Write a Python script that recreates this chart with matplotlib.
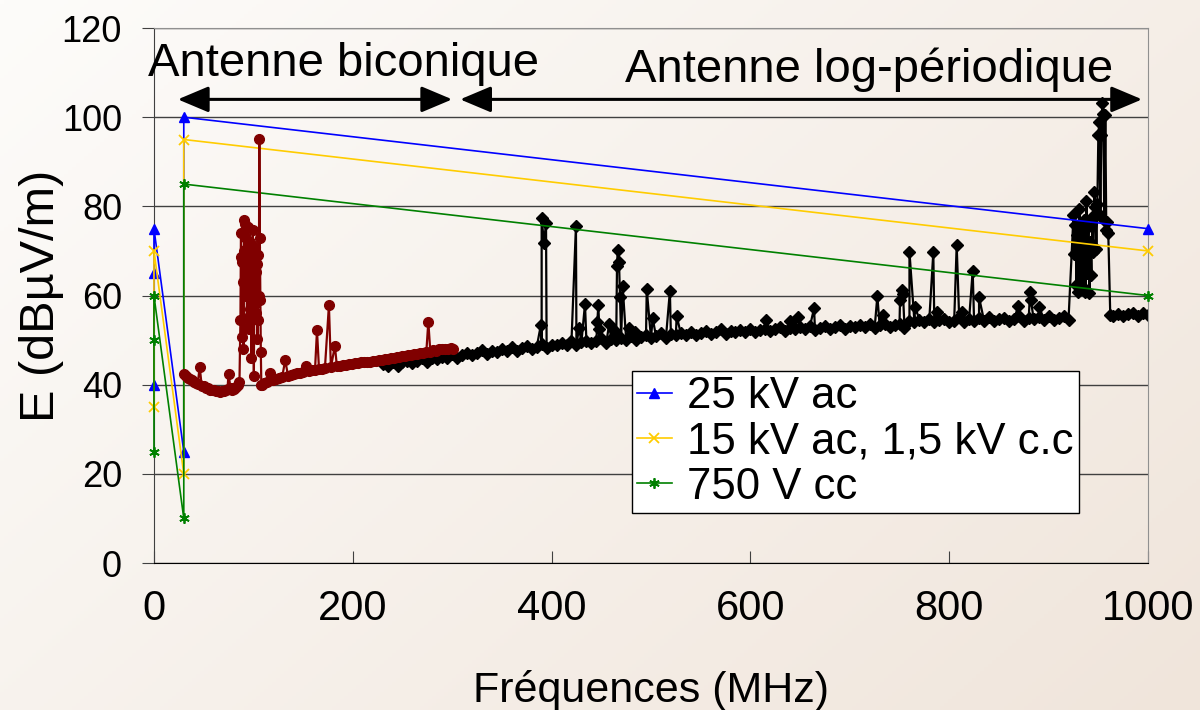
import numpy as np
import matplotlib
matplotlib.use('Agg')
import matplotlib.pyplot as plt

plt.rcParams['font.family'] = ['Liberation Sans', 'DejaVu Sans']

# Limits (frequency MHz, field dBuV/m)
lim_25kv_f = [0, 0, 0, 30, 30, 1000]
lim_25kv_e = [40, 65, 75, 25, 100, 75]
lim_15kv_f = [0, 0, 30, 30, 1000]
lim_15kv_e = [35, 70, 20, 95, 70]
lim_750v_f = [0, 0, 0, 30, 30, 1000]
lim_750v_e = [25, 50, 60, 10, 85, 60]

# Biconical antenna measurement (30-300 MHz)
bic_f = [30, 32, 34, 36, 38, 40, 42, 44, 46, 48, 50, 52, 54, 56, 58, 60, 62, 64, 66, 68,
         70, 72, 74, 75, 77, 79, 81, 83, 85,
         86, 87, 87.5, 88, 88.5, 89, 89.5, 90, 90.5, 91, 91.5, 92, 92.5, 93, 93.5, 94, 94.5,
         95, 95.5, 96, 96.5, 97, 97.5, 98, 98.5, 99, 99.5, 100, 100.5, 101, 101.5, 102, 102.5,
         103, 103.5, 104, 104.5, 105, 105.5, 106, 106.5, 107, 107.5, 108,
         109, 111, 114, 117, 120, 123, 126, 129, 132, 135, 138, 141, 144, 147, 150, 153, 156,
         159, 162, 164, 166, 169, 172, 176, 178, 182, 184, 187, 190, 193, 196, 199, 202, 205,
         208, 211, 214, 217, 220, 223, 226, 229, 232, 235, 238, 241, 244, 247, 250, 253, 256,
         259, 262, 265, 268, 271, 274, 276, 278, 281, 284, 287, 290, 293, 296, 299, 301]
bic_e = [42.3, 42.0, 41.6, 41.3, 41.0, 40.6, 40.4, 40.1, 44.0, 39.8, 39.6, 39.3, 39.2, 38.9,
         38.8, 38.7, 38.5, 38.6, 38.4, 38.5, 38.6, 38.7, 39.0, 42.5, 39.2, 38.9, 39.1, 39.4, 40.0,
         40.5, 54.6, 74.1, 68.7, 67.6, 50.6, 63.1, 47.9, 70.0, 77.0, 76.0, 70.2, 60.0, 73.0, 55.0,
         53.0, 75.4, 66.0, 52.4, 63.5, 57.0, 72.0, 61.0, 45.9, 68.0, 55.0, 74.7, 62.0, 41.9, 64.0,
         58.0, 70.9, 65.3, 56.0, 67.0, 50.2, 54.5, 69.1, 60.0, 95.2, 73.0, 59.0, 47.4, 40.0,
         39.9, 40.4, 40.6, 42.6, 41.0, 41.3, 41.4, 41.7, 45.5, 41.9, 42.2, 42.3, 42.6, 42.6, 42.9,
         44.2, 43.1, 43.3, 43.3, 52.2, 43.6, 43.6, 43.8, 57.8, 43.9, 48.7, 44.2, 44.2, 44.4, 44.4,
         44.6, 44.6, 44.8, 44.8, 45.0, 45.0, 45.2, 45.2, 45.4, 45.4, 45.6, 45.6, 45.8, 45.8, 46.0,
         46.0, 46.2, 46.3, 46.5, 46.4, 46.7, 46.6, 46.9, 46.8, 47.1, 47.1, 47.4, 54.1, 47.4, 47.7,
         47.6, 47.9, 47.9, 48.1, 48.0, 48.3, 48.1]

# Log-periodic antenna measurement (230-1000 MHz): noise floor every 5 MHz
lp_base_f = list(range(230, 925, 5)) + [962] + list(range(965, 1005, 5))
lp_base_e = [44.6, 44.2, 45.1, 44.3, 45.0, 45.4, 44.9, 45.3, 46.1, 45.1, 46.0, 45.8, 46.3, 45.9,
             46.8, 46.0, 46.7, 47.1, 46.6, 47.0, 47.8, 46.8, 47.6, 47.4, 48.0, 47.6, 48.4, 47.6,
             48.2, 48.6, 48.0, 48.4, 49.2, 48.2, 49.0, 48.8, 49.3, 48.9, 49.7, 48.9, 49.5, 49.9,
             49.3, 49.7, 50.4, 49.4, 50.2, 50.0, 50.5, 50.1, 50.9, 50.1, 50.7, 51.1, 50.5, 50.9,
             51.5, 50.5, 51.3, 51.1, 51.5, 51.1, 51.9, 51.1, 51.6, 52.0, 51.4, 51.8, 52.4, 51.4,
             52.1, 51.9, 52.3, 51.9, 52.6, 51.8, 52.3, 52.6, 52.0, 52.4, 53.0, 52.0, 52.7, 52.5,
             52.9, 52.4, 53.2, 52.3, 52.8, 53.2, 52.5, 52.9, 53.5, 52.5, 53.2, 52.9, 53.4, 52.9,
             53.6, 52.8, 53.3, 53.6, 52.9, 53.3, 53.7, 52.8, 54.4, 54.1, 54.6, 54.1, 54.8, 54.0,
             54.5, 54.8, 54.1, 54.4, 55.1, 54.0, 54.7, 54.4, 54.9, 54.4, 55.1, 54.2, 54.7, 55.0,
             54.4, 54.7, 55.3, 54.2, 55.0, 54.7, 55.1, 54.6, 55.3, 54.5, 55.0, 55.3, 54.6,
             55.6, 55.3, 55.9, 55.4, 55.8, 56.1, 55.5, 56.0, 55.7]
# Log-periodic emission peaks
lp_peak_f = [389.3, 390, 392.4, 394.4, 424.5, 427.6, 433.6, 446, 447, 448, 458, 463.8, 465.8,
             466.5, 467.8, 468.8, 471.5, 478.2, 484, 495.7, 501.7, 519, 525.8, 615.7, 639.8,
             647.6, 664, 727.7, 733.8, 750.5, 752, 753.5, 760, 765.6, 784, 788, 807.5, 813,
             823.6, 830, 869.6, 881.3, 882, 890.7,
             925, 926, 927, 928, 929, 930, 931, 932, 933, 934, 935, 936, 937, 938, 939, 940,
             941, 942, 943, 944, 945, 946, 947, 948, 949, 950, 951, 952, 953, 954, 955, 956,
             957, 958, 959, 960]
lp_peak_e = [53.5, 77.3, 71.7, 76.2, 75.6, 52.8, 58.1, 54.1, 57.8, 52.6, 53.7, 52.1, 66.7,
             70.2, 67.6, 59.7, 62.1, 52.8, 51.9, 61.4, 54.9, 61.0, 55.4, 54.6, 54.3,
             55.1, 57.1, 59.9, 55.6, 59.0, 61.2, 60.4, 69.8, 57.5, 69.7, 56.3, 71.3, 56.3,
             65.5, 59.6, 57.6, 60.8, 59.1, 57.5,
             78.0, 69.4, 75.8, 62.3, 73.5, 60.8, 79.5, 62.3, 75.5, 71.7, 62.0, 77.0, 60.8, 81.3,
             65.0, 75.4, 60.6, 72.0, 64.5, 77.6, 69.8, 83.3, 79.9, 70.5, 80.5, 96.0, 98.9, 78.0,
             96.0, 103.1, 100.8, 77.0, 100.5, 74.7, 76.5, 74.0]

lp_f = np.array(lp_base_f + lp_peak_f)
lp_e = np.array(lp_base_e + lp_peak_e)
order = np.argsort(lp_f, kind='stable')
lp_f, lp_e = lp_f[order], lp_e[order]

fig = plt.figure(figsize=(12, 7.1), dpi=100)

# soft diagonal background gradient
bg = fig.add_axes([0, 0, 1, 1], zorder=-1)
gx, gy = np.meshgrid(np.linspace(0, 1, 300), np.linspace(0, 1, 200))
t = np.clip(0.6 * gx + 0.4 * gy, 0, 1)[..., None]
c0 = np.array([253, 252, 250]) / 255
c1 = np.array([240, 229, 219]) / 255
bg.imshow(c0 + (c1 - c0) * t, aspect='auto', extent=[0, 1, 0, 1], origin='upper')
bg.axis('off')

ax = fig.add_axes([0.1283, 0.2070, 0.8284, 0.7535])
ax.set_facecolor('none')

ax.plot(lp_f, lp_e, color='black', marker='D', markersize=6.5, lw=1.6, zorder=2)
ax.plot(lim_25kv_f, lim_25kv_e, color='#0000ff', marker='^', markersize=6.5, lw=1.2,
        label='25 kV ac', clip_on=False, zorder=3)
ax.plot(lim_15kv_f, lim_15kv_e, color='#ffcc00', marker='x', markersize=6.5, mew=1.3, lw=1.2,
        label='15 kV ac, 1,5 kV c.c', clip_on=False, zorder=3)
ax.plot(lim_750v_f, lim_750v_e, color='#008000', marker=(6, 2, 0), markersize=7.5, mew=1.3,
        lw=1.2, label='750 V cc', clip_on=False, zorder=3)
ax.plot(bic_f, bic_e, color='#800000', marker='o', markersize=7, lw=1.6, zorder=4)

ax.set_xlim(0, 1000)
ax.set_ylim(0, 120)
ax.set_xticks(range(0, 1001, 200))
ax.set_yticks(range(0, 121, 20))
ax.grid(axis='y', color='#404040', lw=1)
ax.tick_params(axis='y', direction='out', length=9, color='#404040', pad=14, labelsize=26)
ax.tick_params(axis='x', direction='in', length=9, color='#404040', pad=19, labelsize=30)
for side in ('top', 'right'):
    ax.spines[side].set_color('#909090')
ax.spines['left'].set_color('#404040')
ax.spines['bottom'].set_color('black')

ax.set_xlabel('Fréquences (MHz)', fontsize=31, labelpad=29)
ax.set_ylabel('E (dBµV/m)', fontsize=35, labelpad=-2)

# antenna ranges
arrow = dict(arrowstyle='<|-|>,head_length=1.9,head_width=0.8', lw=2.2, color='black',
             shrinkA=0, shrinkB=0, mutation_scale=10)
ax.annotate('', xy=(300, 104), xytext=(24, 104), arrowprops=arrow, annotation_clip=False)
ax.annotate('', xy=(994, 104), xytext=(308, 104), arrowprops=arrow, annotation_clip=False)
ax.text(-6, 109.2, 'Antenne biconique', fontsize=34, va='baseline', ha='left')
ax.text(474, 107.8, 'Antenne log-périodique', fontsize=34, va='baseline', ha='left')

leg = ax.legend(loc='upper left', bbox_to_anchor=(0.5264, 0.4779),
                bbox_transform=fig.transFigure, fontsize=31.5, frameon=True, fancybox=False,
                handlelength=0.8, handletextpad=0.35, labelspacing=0.1, borderpad=0.12,
                borderaxespad=0)
leg.get_frame().set_edgecolor('black')
leg.get_frame().set_linewidth(1)
leg.get_frame().set_facecolor('white')
leg.get_frame().set_alpha(1)

fig.savefig('out.png', dpi=100)
